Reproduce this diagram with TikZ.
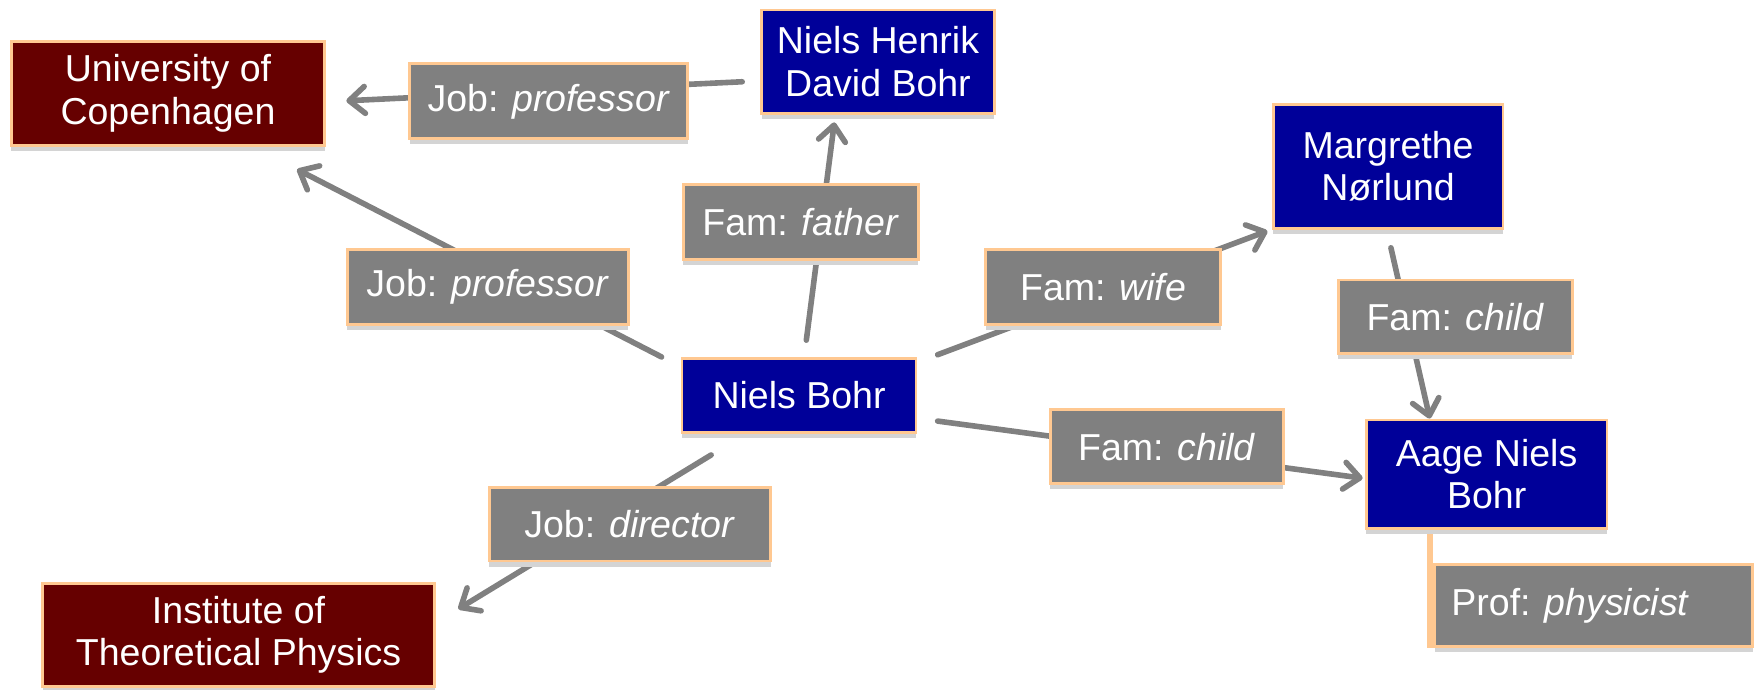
\documentclass[tikz,border=0pt]{standalone}
\usepackage{fontspec}
\setmainfont{Liberation Sans}
\usetikzlibrary{arrows.meta,calc,shadows,backgrounds}
\definecolor{boxred}{RGB}{102,0,0}
\definecolor{boxblue}{RGB}{0,0,153}
\definecolor{lblgray}{RGB}{128,128,128}
\definecolor{rim}{RGB}{255,200,145}
\definecolor{shade}{RGB}{212,212,212}
\begin{document}
\begin{tikzpicture}[x=1pt,y=-1pt,
  base/.style={draw=rim, line width=2.5pt, text=white, align=center, inner sep=0pt,
    font=\fontsize{33.5}{38}\selectfont,
    drop shadow={shadow xshift=0pt, shadow yshift=-5pt, fill=shade, opacity=1}},
  redbox/.style={base, fill=boxred},
  bluebox/.style={base, fill=boxblue},
  lbl/.style={base, fill=lblgray},
  conn/.style={draw=lblgray, line width=5pt, line cap=round},
  arr/.style={conn, -{Straight Barb[length=14pt,width=24pt,round]}},
  prop/.style={draw=rim, line width=5pt}
]
\useasboundingbox (0,0) rectangle (1568,616);

% entity boxes
\node[redbox, minimum width=280pt, minimum height=93pt] (univ) at (150,83.5) {University of\\Copenhagen};
\node[bluebox, minimum width=208pt, minimum height=92pt] (nhdb) at (784,55) {Niels Henrik\\David Bohr};
\node[bluebox, minimum width=209pt, minimum height=66pt] (nb) at (713.5,353) {Niels Bohr};
\node[bluebox, minimum width=205pt, minimum height=111pt] (mn) at (1239.5,148.5) {Margrethe\\Nørlund};
\node[bluebox, minimum width=215pt, minimum height=97pt] (anb) at (1327.5,423.5) {Aage Niels\\Bohr};
\node[redbox, minimum width=350pt, minimum height=92pt] (itp) at (213,567) {Institute of\\Theoretical Physics};

% relation labels
\node[lbl, minimum width=248pt, minimum height=67pt] (jp1) at (490,90.5) {Job: \textit{professor}};
\node[lbl, minimum width=210pt, minimum height=67pt] (ff) at (715,198.5) {Fam: \textit{father}};
\node[lbl, minimum width=251pt, minimum height=67pt] (jp2) at (435.5,256.5) {Job: \textit{professor}};
\node[lbl, minimum width=210pt, minimum height=67pt] (fw) at (985,256.5) {Fam: \textit{wife}};
\node[lbl, minimum width=209pt, minimum height=66pt] (fc1) at (1299.5,283) {Fam: \textit{child}};
\node[lbl, minimum width=208pt, minimum height=66pt] (fc2) at (1042,399) {Fam: \textit{child}};
\node[lbl, minimum width=251pt, minimum height=66pt] (jd) at (562.5,468) {Job: \textit{director}};
\node[lbl, inner xsep=15pt, minimum height=73pt] (pp) at (1423,540.5) {\makebox[254pt][l]{Prof: \textit{physicist}}};

% connectors (behind the boxes)
\begin{pgfonlayer}{background}
\draw[arr] ($(nhdb.west)+(-16,18)$) -- ($(univ.east)+(18,6.5)$);
\draw[arr] ($(nb.north)+(6.5,-15)$) -- ($(nhdb.south)+(-39,7)$);
\draw[arr] ($(nb.north west)+(-17,0)$) -- ($(univ.south east)+(-26,20)$);
\draw[arr] ($(nb.north east)+(18,-2)$) -- ($(mn.south west)+(-4,1)$);
\draw[arr] ($(mn.south)+(2.5,16)$) -- ($(anb.north west)+(58,0)$);
\draw[arr] ($(nb.east)+(18,23)$) -- ($(anb.west)+(-2,3.5)$);
\draw[arr] ($(nb.south)+(-78.5,19)$) -- ($(itp.north east)+(20,24)$);
\draw[prop] ($(anb.south west)+(58,0)$) -- ($(pp.south west)+(-3,0)$);
\end{pgfonlayer}
\end{tikzpicture}
\end{document}
